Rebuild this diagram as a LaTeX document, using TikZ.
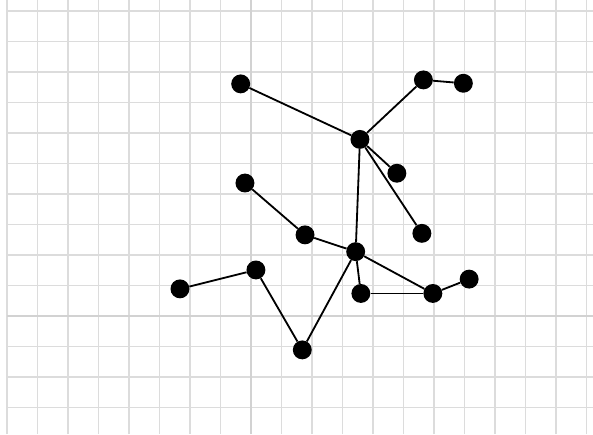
\documentclass[tikz,border=0pt]{standalone}
\usepackage{xcolor}
\usepackage{tikz}
\definecolor{gridgray}{HTML}{DCDCDC}
\definecolor{axisgray}{HTML}{D2D2D2}

\begin{document}
\begin{tikzpicture}[
  dot/.style={circle, fill=black, draw=none, minimum size=0.62cm, inner sep=0pt},
  edge/.style={line width=1.7pt, draw=black},
  gridline/.style={line width=1.2pt, draw=gridgray},
  axisline/.style={line width=2pt, draw=axisgray}
]
\useasboundingbox (-8.23,-3.87) rectangle (11.21,10.36);
% grid
\foreach \x in {-8,...,11} \draw[gridline] (\x,-3.87) -- (\x,10.36);
\foreach \y in {-3,...,10} \draw[gridline] (-8,\y) -- (11.21,\y);
\draw[axisline] (0,-3.87) -- (0,10.36);
\draw[axisline] (-8,0) -- (11.21,0);
% vertices
\node[dot] (a) at (-0.34,7.61) {};
\node[dot] (b) at (5.65,7.74) {};
\node[dot] (c) at (6.96,7.63) {};
\node[dot] (d) at (3.57,5.79) {};
\node[dot] (e) at (4.78,4.68) {};
\node[dot] (f) at (-0.20,4.36) {};
\node[dot] (g) at (5.60,2.71) {};
\node[dot] (h) at (1.77,2.66) {};
\node[dot] (i) at (3.43,2.11) {};
\node[dot] (j) at (0.16,1.51) {};
\node[dot] (k) at (-2.33,0.89) {};
\node[dot] (l) at (3.60,0.74) {};
\node[dot] (m) at (5.96,0.74) {};
\node[dot] (n) at (7.15,1.21) {};
\node[dot] (o) at (1.68,-1.11) {};
% edges
\draw[edge] (a) -- (d);
\draw[edge] (d) -- (b);
\draw[edge] (b) -- (c);
\draw[edge] (d) -- (e);
\draw[edge] (d) -- (g);
\draw[edge] (d) -- (i);
\draw[edge] (f) -- (h);
\draw[edge] (h) -- (i);
\draw[edge] (i) -- (m);
\draw[edge] (i) -- (l);
\draw[edge] (l) -- (m);
\draw[edge] (m) -- (n);
\draw[edge] (i) -- (o);
\draw[edge] (o) -- (j);
\draw[edge] (j) -- (k);
\end{tikzpicture}
\end{document}
